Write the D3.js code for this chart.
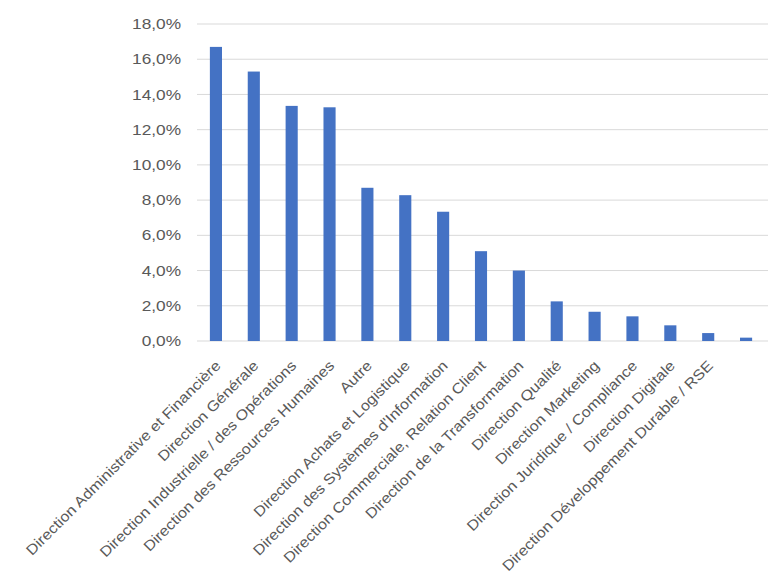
<!DOCTYPE html>
<html><head><meta charset="utf-8">
<script src="https://cdn.jsdelivr.net/npm/d3@7"></script>
<style>body{margin:0;background:#fff}svg{display:block}</style>
</head><body>
<svg id="c" width="779" height="580"></svg>
<script>
const categories = [
  "Direction Administrative et Financière",
  "Direction Générale",
  "Direction Industrielle / des Opérations",
  "Direction des Ressources Humaines",
  "Autre",
  "Direction Achats et Logistique",
  "Direction des Systèmes d'Information",
  "Direction Commerciale, Relation Client",
  "Direction de la Transformation",
  "Direction Qualité",
  "Direction Marketing",
  "Direction Juridique / Compliance",
  "Direction Digitale",
  "Direction Développement Durable / RSE",
  ""
];
const values = [16.7, 15.3, 13.35, 13.27, 8.7, 8.28, 7.34, 5.1, 4.0, 2.25, 1.66, 1.4, 0.89, 0.45, 0.19];
const yTicks = [0, 2, 4, 6, 8, 10, 12, 14, 16, 18];

const FONT = "Liberation Sans, Arial, sans-serif";
const svg = d3.select("#c");
const x = d3.scaleBand().domain(d3.range(categories.length)).range([197, 765]).paddingInner(0.68).paddingOuter(0.34);
const y = d3.scaleLinear().domain([0, 18]).range([341, 24]);

// gridlines
svg.append("g").selectAll("line").data(yTicks).join("line")
  .attr("x1", 197).attr("x2", 768)
  .attr("y1", d => y(d)).attr("y2", d => y(d))
  .attr("stroke", "#d9d9d9").attr("stroke-width", 1);

// y axis labels
const yAxis = d3.axisLeft(y).tickValues(yTicks).tickSize(0).tickPadding(0)
  .tickFormat(d => d.toFixed(1).replace(".", ",") + "%");
const gy = svg.append("g").attr("transform", "translate(181,0)").call(yAxis);
gy.select(".domain").remove();
gy.selectAll("text").attr("fill", "#595959").style("font-family", FONT).style("font-size", "14.5px")
  .each(function() {
    const L = this.getComputedTextLength();
    d3.select(this).attr("textLength", L * 1.19).attr("lengthAdjust", "spacingAndGlyphs");
  });

// bars
svg.append("g").selectAll("rect").data(values).join("rect")
  .attr("x", (d, i) => x(i))
  .attr("width", x.bandwidth())
  .attr("y", d => y(d))
  .attr("height", d => y(0) - y(d))
  .attr("fill", "#4472C4");

// x labels
svg.append("g").selectAll("text").data(categories).join("text")
  .attr("transform", (d, i) => `translate(${x(i) + x.bandwidth() / 2 + 2},${363}) rotate(-45)`)
  .attr("text-anchor", "end")
  .attr("dy", "0.35em")
  .attr("fill", "#595959")
  .style("font-family", FONT)
  .style("font-size", "14.5px")
  .text(d => d)
  .each(function() {
    const L = this.getComputedTextLength();
    if (L > 0) d3.select(this).attr("textLength", L * 1.12).attr("lengthAdjust", "spacingAndGlyphs");
  });
</script>
</body></html>
